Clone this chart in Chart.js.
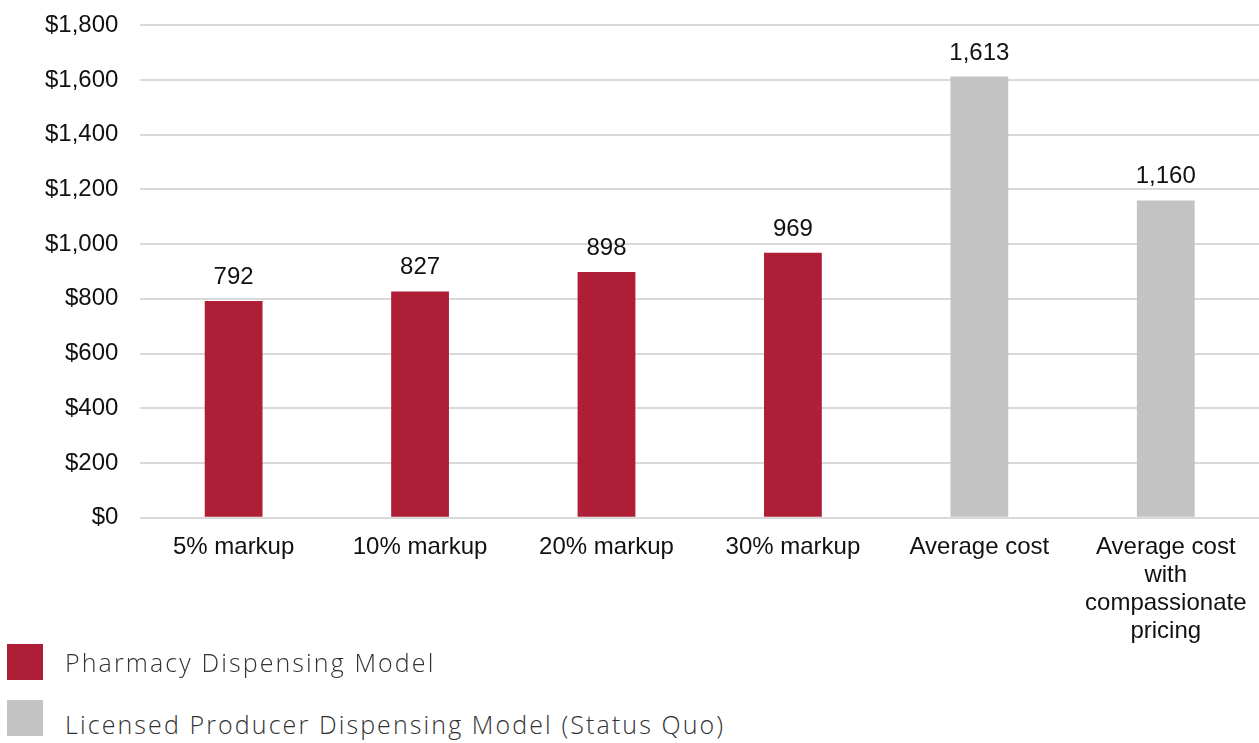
<!DOCTYPE html>
<html>
<head>
<meta charset="utf-8">
<script src="https://cdn.jsdelivr.net/npm/chart.js@4"></script>
<style>
  html, body { margin: 0; padding: 0; background: #fff; overflow: hidden; }
  #wrap { position: relative; width: 1259px; height: 743px; overflow: hidden; }
  #box { position: absolute; left: 0; top: -11px; width: 1259px; height: 664px; }
  .legend-item { position: absolute; left: 7px; display: flex; align-items: center;
    font-family: 'Open Sans', sans-serif; font-weight: 300; font-size: 25px; letter-spacing: 2.1px; color: #333; }
  .legend-sw { width: 36px; height: 36px; margin-right: 22px; }
</style>
</head>
<body>
<div id="wrap">
  <div id="box"><canvas id="costChart"></canvas></div>
  <div class="legend-item" style="top:644px"><span class="legend-sw" style="background:#ae1f37"></span><span>Pharmacy Dispensing Model</span></div>
  <div class="legend-item" style="top:700px"><span class="legend-sw" style="background:#c3c3c3"></span><span style="position:relative;top:6px">Licensed Producer Dispensing Model (Status Quo)</span></div>
</div>
<script>
const categories = ['5% markup', '10% markup', '20% markup', '30% markup', 'Average cost',
                    ['Average cost', 'with', 'compassionate', 'pricing']];
const costs      = [792, 827, 898, 969, 1613, 1160];
const models     = ['pharmacy', 'pharmacy', 'pharmacy', 'pharmacy', 'producer', 'producer'];
const yTicks     = [0, 200, 400, 600, 800, 1000, 1200, 1400, 1600, 1800];

const modelColors = { pharmacy: '#ae1f37', producer: '#c3c3c3' };
const FONT = "'Liberation Sans', Arial, sans-serif";

const valueLabels = {
  id: 'valueLabels',
  afterDatasetsDraw(chart) {
    const { ctx: c } = chart;
    const meta = chart.getDatasetMeta(0);
    c.save();
    c.font = '24px ' + FONT;
    c.fillStyle = '#111';
    c.textAlign = 'center';
    c.textBaseline = 'alphabetic';
    meta.data.forEach((bar, i) => {
      c.fillText(costs[i].toLocaleString('en-US'), bar.x, bar.y - 17);
    });
    c.restore();
  }
};

new Chart(document.getElementById('costChart'), {
  type: 'bar',
  plugins: [valueLabels],
  data: {
    labels: categories,
    datasets: [{
      data: costs,
      backgroundColor: models.map(m => modelColors[m]),
      categoryPercentage: 1,
      barPercentage: 0.31
    }]
  },
  options: {
    responsive: true,
    maintainAspectRatio: false,
    animation: false,
    layout: { padding: { top: 6, right: 0, left: 23, bottom: 0 } },
    plugins: { legend: { display: false }, tooltip: { enabled: false } },
    scales: {
      x: {
        grid: { display: false },
        border: { display: false },
        ticks: {
          color: '#111', maxRotation: 0, autoSkip: false, padding: 8,
          font: { size: 24, family: FONT, lineHeight: 1.16 }
        }
      },
      y: {
        min: 0, max: 1800,
        afterBuildTicks: axis => { axis.ticks = yTicks.map(v => ({ value: v })); },
        grid: { color: '#d9d9d9', lineWidth: 2, drawTicks: false },
        border: { display: false },
        ticks: {
          color: '#111', padding: 22,
          font: { size: 24, family: FONT },
          callback: v => '$' + v.toLocaleString('en-US')
        }
      }
    }
  }
});
</script>
</body>
</html>
